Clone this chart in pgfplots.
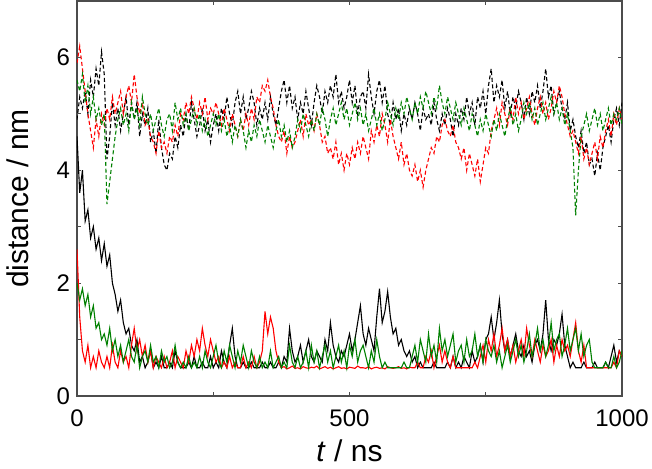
\documentclass[border=0pt]{standalone}
\usepackage{pgfplots}
\pgfplotsset{compat=1.18}
\usepackage{pgfplotstable}
\usepackage{fontspec}
\setmainfont{Liberation Sans}
\definecolor{dgreen}{RGB}{0,128,0}

% 5 ns sampling, one value per row
\pgfplotstableread[row sep=\\,header=false]{
4.9\\5.3\\5.1\\5.4\\5.0\\
5.6\\5.3\\5.8\\5.5\\6.1\\5.7\\
4.2\\4.6\\5.2\\4.8\\
5.1\\4.7\\5.0\\5.3\\4.8\\5.2\\
4.9\\5.2\\4.6\\5.0\\4.8\\5.1\\
4.5\\4.7\\4.3\\4.9\\4.4\\4.1\\
4.0\\4.3\\4.2\\4.6\\4.4\\4.8\\
4.6\\5.0\\4.7\\5.2\\4.9\\4.6\\
4.8\\5.1\\4.7\\4.9\\4.5\\4.8\\
5.0\\4.7\\5.1\\4.9\\5.3\\5.0\\
4.8\\5.2\\5.4\\5.0\\5.3\\4.9\\
5.1\\5.4\\5.2\\4.8\\5.1\\4.9\\
5.2\\4.9\\5.3\\5.0\\4.8\\5.1\\
5.4\\5.6\\5.2\\5.5\\5.1\\5.3\\
4.9\\5.2\\5.0\\5.4\\5.1\\4.8\\
5.2\\5.5\\5.3\\5.0\\5.4\\5.2\\
5.5\\5.3\\5.7\\5.2\\5.4\\5.1\\
5.3\\5.6\\5.2\\5.5\\5.0\\5.3\\
5.4\\5.1\\5.7\\5.3\\5.0\\5.4\\
5.6\\5.2\\5.5\\5.0\\4.8\\5.2\\
4.9\\5.1\\4.7\\5.0\\4.8\\5.1\\
4.9\\5.2\\5.0\\4.7\\5.1\\4.9\\
5.0\\4.8\\5.2\\4.9\\4.7\\5.0\\
4.8\\5.1\\4.9\\4.6\\5.0\\4.8\\
5.1\\4.9\\5.3\\5.0\\5.2\\4.8\\
5.3\\5.1\\5.4\\5.0\\5.5\\5.8\\
5.2\\5.5\\5.3\\5.6\\5.1\\5.4\\
5.0\\5.3\\5.1\\5.4\\5.2\\4.9\\
5.3\\5.0\\5.4\\5.2\\5.5\\5.1\\
5.4\\5.8\\5.3\\5.5\\5.0\\5.2\\
5.4\\5.1\\4.9\\5.2\\4.7\\4.9\\
4.6\\4.4\\4.7\\4.3\\4.5\\4.1\\
4.2\\3.9\\4.3\\4.0\\4.4\\4.6\\
4.8\\4.5\\4.9\\5.1\\4.8\\5.2\\
}\bu

\pgfplotstableread[row sep=\\,header=false]{
5.9\\6.2\\5.8\\5.4\\5.0\\
4.7\\4.4\\4.9\\4.6\\5.0\\4.8\\
5.1\\4.9\\5.3\\5.0\\
5.2\\5.4\\5.0\\5.3\\5.5\\5.2\\
5.7\\5.3\\5.0\\5.2\\4.8\\4.9\\
4.6\\4.5\\4.3\\4.7\\4.4\\4.5\\
4.3\\4.6\\4.5\\4.8\\4.6\\5.0\\
4.9\\5.2\\5.0\\5.3\\5.1\\4.9\\
5.2\\5.0\\5.3\\4.9\\5.1\\5.0\\
5.2\\5.0\\4.8\\5.1\\4.9\\4.7\\
5.0\\4.8\\4.6\\4.9\\4.7\\5.0\\
4.8\\5.1\\4.9\\5.3\\5.2\\5.5\\
5.4\\5.6\\5.3\\5.1\\4.8\\4.6\\
4.5\\4.7\\4.3\\4.6\\4.4\\4.5\\
4.7\\4.9\\4.6\\5.0\\4.8\\4.9\\
4.7\\5.0\\4.8\\4.5\\4.6\\4.3\\
4.4\\4.2\\4.5\\4.1\\4.3\\4.0\\
4.3\\4.1\\4.4\\4.2\\4.5\\4.3\\
4.6\\4.4\\4.2\\4.7\\4.5\\4.8\\
4.6\\5.0\\4.8\\4.5\\4.9\\4.6\\
4.4\\4.2\\4.5\\4.1\\4.3\\4.0\\
3.9\\4.1\\3.8\\4.0\\3.7\\4.0\\
4.2\\4.4\\4.3\\4.6\\4.5\\4.8\\
4.9\\4.7\\4.6\\4.8\\4.5\\4.4\\
4.2\\4.4\\4.0\\4.3\\4.1\\3.9\\
4.2\\3.8\\4.1\\4.4\\4.3\\4.7\\
4.9\\5.1\\4.8\\5.2\\5.0\\4.8\\
5.1\\4.9\\5.3\\5.0\\5.2\\4.9\\
5.1\\5.3\\5.0\\4.8\\5.1\\5.3\\
5.0\\5.2\\4.9\\5.1\\5.4\\5.2\\
5.5\\5.3\\5.0\\4.8\\4.6\\4.7\\
4.5\\4.3\\4.6\\4.2\\4.4\\4.1\\
4.3\\4.5\\4.2\\4.6\\4.4\\4.7\\
4.9\\4.6\\5.0\\4.8\\5.1\\4.9\\
}\ru

\pgfplotstableread[row sep=\\,header=false]{
5.6\\5.4\\5.7\\5.2\\5.5\\
5.0\\5.3\\4.9\\5.1\\4.8\\5.0\\
3.4\\3.8\\4.2\\4.6\\
4.9\\5.1\\4.8\\5.0\\4.7\\5.2\\
4.9\\5.1\\4.8\\5.3\\5.0\\4.8\\
5.0\\4.7\\4.9\\5.1\\4.8\\4.6\\
4.9\\5.0\\4.7\\5.2\\4.9\\5.1\\
4.8\\5.0\\4.7\\4.9\\5.1\\4.8\\
5.0\\4.7\\4.9\\4.6\\4.8\\5.0\\
4.8\\5.0\\4.7\\4.9\\4.6\\4.8\\
4.5\\4.8\\4.6\\4.9\\4.7\\4.4\\
4.7\\4.5\\4.8\\4.6\\4.9\\4.7\\
4.5\\4.8\\4.6\\4.4\\4.7\\4.9\\
4.6\\4.8\\4.5\\4.7\\4.4\\4.6\\
4.9\\4.7\\5.0\\4.8\\4.6\\4.9\\
4.7\\5.0\\4.8\\5.1\\4.9\\4.6\\
4.9\\5.1\\4.8\\5.0\\5.2\\4.9\\
5.1\\4.8\\5.0\\5.2\\4.9\\5.1\\
4.8\\5.0\\4.7\\4.9\\5.1\\4.8\\
5.0\\4.7\\4.9\\5.2\\5.0\\4.8\\
5.1\\4.9\\5.2\\5.0\\5.3\\5.1\\
4.9\\5.2\\5.0\\5.3\\5.1\\5.4\\
5.2\\5.0\\5.3\\5.1\\5.5\\5.2\\
5.0\\5.3\\5.1\\4.9\\5.2\\5.0\\
4.8\\5.1\\4.9\\4.7\\5.0\\4.8\\
4.6\\4.9\\4.7\\5.0\\4.8\\4.6\\
4.9\\4.7\\5.0\\4.8\\4.6\\4.9\\
5.1\\4.8\\5.0\\4.7\\4.9\\5.2\\
5.0\\5.2\\4.9\\5.1\\4.8\\5.0\\
5.2\\4.9\\5.1\\5.3\\5.0\\5.2\\
4.9\\5.1\\4.8\\5.0\\4.7\\4.4\\
3.2\\4.0\\4.6\\4.8\\5.0\\4.7\\
4.9\\5.1\\4.8\\5.0\\4.7\\4.9\\
5.1\\4.8\\5.0\\4.9\\5.1\\4.8\\
}\gu

\pgfplotstableread[row sep=\\,header=false]{
4.6\\3.6\\4.0\\3.1\\3.3\\
2.8\\3.0\\2.6\\2.8\\2.4\\2.7\\
2.3\\2.5\\2.0\\1.8\\
1.5\\1.7\\1.3\\1.1\\1.2\\0.9\\
0.8\\1.0\\0.6\\0.7\\0.5\\0.6\\
0.8\\0.5\\0.6\\0.5\\0.7\\0.5\\
0.5\\0.6\\0.5\\0.8\\0.6\\0.5\\
0.5\\0.5\\0.6\\0.5\\0.7\\0.5\\
0.5\\0.6\\0.5\\0.5\\0.7\\0.5\\
0.6\\0.5\\0.8\\0.6\\0.5\\0.9\\
1.2\\0.7\\0.5\\0.5\\0.6\\0.5\\
0.5\\0.6\\0.5\\0.5\\0.5\\0.6\\
0.5\\0.5\\0.6\\0.5\\0.5\\0.6\\
0.5\\0.7\\0.6\\1.2\\0.8\\0.6\\
0.7\\0.9\\0.6\\0.8\\1.0\\0.7\\
0.6\\0.8\\0.7\\0.6\\1.0\\0.8\\
1.3\\0.9\\0.7\\0.6\\0.8\\0.7\\
0.9\\1.1\\0.8\\1.0\\1.3\\1.6\\
1.1\\0.9\\1.2\\1.0\\0.8\\1.4\\
1.9\\1.3\\1.5\\1.85\\1.4\\1.1\\
1.2\\0.9\\1.0\\0.8\\0.7\\0.8\\
0.6\\0.7\\0.5\\0.6\\0.5\\0.5\\
0.5\\0.5\\0.6\\0.5\\0.5\\0.5\\
0.5\\0.6\\0.5\\0.7\\0.5\\0.6\\
0.5\\0.7\\0.6\\0.5\\0.8\\0.6\\
0.7\\0.9\\0.6\\1.0\\1.1\\1.4\\
1.0\\1.3\\1.7\\1.1\\0.8\\1.0\\
0.7\\0.9\\1.1\\0.8\\0.7\\0.9\\
0.7\\0.8\\0.6\\0.9\\1.0\\0.8\\
1.1\\1.7\\1.0\\0.8\\1.0\\0.9\\
1.1\\1.45\\0.9\\0.7\\0.5\\0.6\\
0.5\\0.5\\0.5\\0.6\\0.5\\0.5\\
0.5\\0.6\\0.5\\0.5\\0.5\\0.6\\
0.5\\0.7\\0.9\\0.6\\0.8\\0.7\\
}\bl

\pgfplotstableread[row sep=\\,header=false]{
2.6\\1.4\\0.8\\0.6\\0.9\\
0.5\\0.7\\0.5\\0.8\\0.6\\0.5\\
0.7\\0.5\\0.9\\0.6\\
0.5\\0.8\\0.6\\0.7\\0.5\\0.9\\
1.2\\0.8\\1.0\\0.7\\0.9\\0.6\\
0.8\\0.5\\0.7\\0.6\\0.5\\0.7\\
0.5\\0.6\\0.8\\0.5\\0.7\\0.6\\
0.5\\0.8\\0.6\\0.9\\0.7\\1.0\\
0.8\\1.2\\0.9\\0.7\\1.0\\0.8\\
0.6\\0.7\\0.5\\0.6\\0.5\\0.7\\
0.5\\0.6\\0.5\\0.5\\0.7\\0.5\\
0.6\\0.5\\0.7\\0.5\\0.6\\0.8\\
1.5\\1.1\\1.4\\1.2\\0.8\\0.6\\
0.5\\0.52\\0.48\\0.5\\0.53\\0.49\\
0.5\\0.48\\0.52\\0.5\\0.49\\0.51\\
0.5\\0.53\\0.48\\0.5\\0.52\\0.49\\
0.51\\0.48\\0.5\\0.52\\0.49\\0.5\\
0.48\\0.51\\0.5\\0.49\\0.53\\0.5\\
0.5\\0.49\\0.52\\0.48\\0.5\\0.51\\
0.49\\0.5\\0.48\\0.52\\0.5\\0.49\\
0.5\\0.52\\0.49\\0.5\\0.48\\0.51\\
0.5\\0.5\\0.6\\0.5\\0.5\\0.7\\
0.6\\0.8\\0.5\\0.7\\0.9\\0.6\\
0.8\\0.6\\0.5\\0.7\\0.5\\0.5\\
0.5\\0.5\\0.5\\0.5\\0.5\\0.6\\
0.5\\0.7\\0.9\\0.6\\1.0\\0.8\\
1.1\\0.7\\0.9\\1.2\\0.8\\1.0\\
0.7\\0.9\\0.6\\0.8\\1.0\\0.7\\
1.2\\0.9\\0.7\\1.0\\0.8\\0.6\\
0.9\\0.7\\0.8\\1.0\\0.6\\0.9\\
0.7\\1.0\\0.8\\0.9\\0.7\\1.0\\
1.3\\0.8\\0.6\\0.9\\0.5\\0.5\\
0.5\\0.5\\0.5\\0.5\\0.5\\0.5\\
0.5\\0.5\\0.6\\0.5\\0.8\\0.7\\
}\rl

\pgfplotstableread[row sep=\\,header=false]{
2.0\\1.7\\1.9\\1.6\\1.8\\
1.4\\1.6\\1.2\\1.3\\1.0\\1.1\\
0.9\\1.2\\0.8\\1.0\\
0.7\\0.9\\0.6\\0.8\\1.0\\0.7\\
0.6\\0.9\\0.5\\0.7\\0.8\\0.6\\
0.9\\0.6\\0.7\\0.5\\0.8\\0.6\\
0.7\\0.5\\0.6\\0.9\\0.6\\0.5\\
0.6\\0.5\\0.7\\0.5\\0.6\\0.5\\
0.7\\0.5\\0.8\\0.6\\0.5\\0.7\\
0.9\\0.6\\0.5\\0.8\\0.6\\0.9\\
0.7\\0.5\\0.8\\0.6\\0.9\\0.7\\
0.5\\0.8\\0.6\\0.5\\0.7\\0.5\\
0.6\\0.5\\0.8\\0.5\\0.6\\0.7\\
0.5\\0.6\\0.5\\0.9\\0.6\\0.5\\
0.7\\0.5\\0.6\\0.8\\0.5\\0.9\\
0.6\\0.8\\0.5\\0.7\\0.9\\0.6\\
0.8\\0.5\\0.7\\0.9\\0.6\\0.8\\
0.5\\0.9\\0.7\\1.0\\0.6\\0.8\\
0.9\\0.7\\0.5\\0.8\\0.6\\1.0\\
0.7\\0.5\\0.6\\0.5\\0.5\\0.5\\
0.5\\0.5\\0.5\\0.6\\0.5\\0.5\\
0.7\\0.9\\0.6\\1.0\\0.8\\0.6\\
1.1\\0.7\\0.9\\0.6\\1.2\\0.8\\
1.0\\0.7\\0.9\\1.1\\0.6\\0.8\\
0.9\\0.6\\1.0\\0.7\\0.8\\1.1\\
0.7\\0.9\\0.6\\1.0\\0.8\\0.7\\
0.9\\0.6\\0.8\\0.5\\0.7\\0.9\\
0.6\\0.8\\1.0\\0.7\\0.9\\0.6\\
0.8\\1.1\\0.7\\0.9\\1.2\\0.8\\
1.0\\0.7\\0.9\\1.3\\0.8\\1.0\\
1.1\\0.7\\0.9\\1.2\\0.8\\1.0\\
1.2\\0.8\\1.1\\0.7\\0.9\\1.0\\
0.6\\0.5\\0.5\\0.5\\0.5\\0.6\\
0.5\\0.5\\0.7\\0.5\\0.6\\0.8\\
}\gl

\begin{document}
\begin{tikzpicture}
\begin{axis}[
  scale only axis,
  width=272.5pt, height=197.5pt,
  xmin=0, xmax=1000, ymin=0, ymax=7,
  xtick={0,250,500,750,1000},
  xticklabels={0,,500,,1000},
  ytick={0,1,2,3,4,5,6},
  yticklabels={0,,2,,4,,6},
  tick align=inside,
  major tick length=2pt,
  every tick/.style={gray!60!black, line width=0.5pt},
  axis line style={gray!60!black, line width=0.7pt},
  tick label style={font=\fontsize{12pt}{14pt}\selectfont},
  label style={font=\fontsize{15pt}{17pt}\selectfont},
  /pgf/number format/assume math mode=true,
  xlabel={\textit{t} / ns},
  ylabel={distance / nm},
  xticklabel style={yshift=-3.5pt},
  xlabel style={at={(axis description cs:0.5,0)}, anchor=base, yshift=-33pt},
  ylabel style={at={(axis description cs:-0.108,0.5)}, anchor=center},
  every axis plot/.append style={line width=0.55pt},
]
\addplot[black, dash pattern=on 2pt off 1.3pt] table[x expr=\coordindex*5, y index=0] {\bu};
\addplot[red, dash pattern=on 2pt off 1.3pt] table[x expr=\coordindex*5, y index=0] {\ru};
\addplot[dgreen, dash pattern=on 2pt off 1.3pt] table[x expr=\coordindex*5, y index=0] {\gu};
\addplot[black] table[x expr=\coordindex*5, y index=0] {\bl};
\addplot[red] table[x expr=\coordindex*5, y index=0] {\rl};
\addplot[dgreen] table[x expr=\coordindex*5, y index=0] {\gl};
\end{axis}
\pgfresetboundingbox
\path[use as bounding box] ([shift={(-38.5pt,-36.5pt)}]current axis.south west) rectangle ([shift={(15pt,0.5pt)}]current axis.north east);
\end{tikzpicture}
\end{document}
